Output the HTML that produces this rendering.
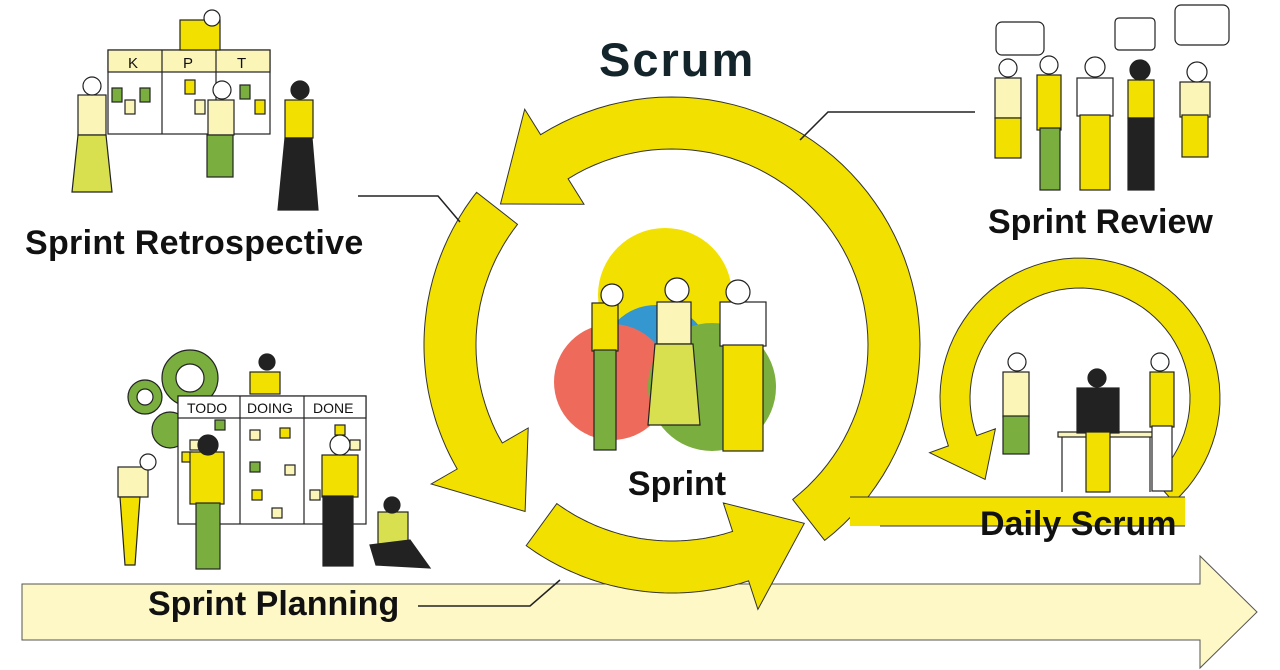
<!DOCTYPE html>
<html><head><meta charset="utf-8"><style>
html,body{margin:0;padding:0;background:#fff;width:1280px;height:670px;overflow:hidden}
svg{display:block}
text{font-family:"Liberation Sans",sans-serif;font-weight:bold;fill:#111}
</style></head><body>
<svg id="s" width="1280" height="670" viewBox="0 0 1280 670">
<polygon points="22,584 1200,584 1200,556 1257,612 1200,668 1200,640 22,640" fill="#fdf8c6" stroke="#555" stroke-width="1"/>
<g id="rings"></g>
<rect x="850" y="497" width="335" height="29" fill="#f2e100"/>
<line x1="850" y1="497" x2="1185" y2="497" stroke="#333"/>
<line x1="880" y1="526" x2="1185" y2="526" stroke="#333"/>
<!-- center circles -->
<circle cx="665" cy="295" r="67" fill="#f2e100"/>
<circle cx="656" cy="360" r="55" fill="#3497cf"/>
<circle cx="612" cy="382" r="58" fill="#ee6b5b"/>
<circle cx="712" cy="387" r="64" fill="#7aae3f"/>
<!-- center people -->
<g stroke="#222" stroke-width="1.2">
<rect x="592" y="303" width="26" height="48" fill="#f2e100"/>
<rect x="594" y="350" width="22" height="100" fill="#7aae3f"/>
<circle cx="612" cy="295" r="11" fill="#fff"/>
<rect x="657" y="302" width="34" height="42" fill="#fbf5b8"/>
<polygon points="655,344 693,344 700,425 648,425" fill="#d8e050"/>
<circle cx="677" cy="290" r="12" fill="#fff"/>
<rect x="720" y="302" width="46" height="44" fill="#fff"/>
<rect x="723" y="345" width="40" height="106" fill="#f2e100"/>
<circle cx="738" cy="292" r="12" fill="#fff"/>
</g>
<!-- daily scrum people -->
<g stroke="#222" stroke-width="1.2">
<rect x="1058" y="432" width="96" height="5" fill="#fbf5b8"/>
<line x1="1062" y1="437" x2="1062" y2="492"/><line x1="1150" y1="437" x2="1150" y2="492"/>
<rect x="1003" y="372" width="26" height="45" fill="#fbf5b8"/>
<rect x="1003" y="416" width="26" height="38" fill="#7aae3f"/>
<circle cx="1017" cy="362" r="9" fill="#fff"/>
<rect x="1077" y="388" width="42" height="45" fill="#222"/>
<rect x="1086" y="432" width="24" height="60" fill="#f2e100"/>
<circle cx="1097" cy="378" r="9" fill="#222"/>
<rect x="1150" y="372" width="24" height="55" fill="#f2e100"/>
<rect x="1152" y="426" width="20" height="65" fill="#fff"/>
<circle cx="1160" cy="362" r="9" fill="#fff"/>
</g>
<!-- sprint review people -->
<g stroke="#222" stroke-width="1.2">
<rect x="996" y="22" width="48" height="33" rx="6" fill="#fff"/>
<rect x="1115" y="18" width="40" height="32" rx="4" fill="#fff"/>
<rect x="1175" y="5" width="54" height="40" rx="6" fill="#fff"/>
<rect x="995" y="78" width="26" height="40" fill="#fbf5b8"/><rect x="995" y="118" width="26" height="40" fill="#f2e100"/><circle cx="1008" cy="68" r="9" fill="#fff"/>
<rect x="1037" y="75" width="24" height="55" fill="#f2e100"/><rect x="1040" y="128" width="20" height="62" fill="#7aae3f"/><circle cx="1049" cy="65" r="9" fill="#fff"/>
<rect x="1077" y="78" width="36" height="38" fill="#fff"/><rect x="1080" y="115" width="30" height="75" fill="#f2e100"/><circle cx="1095" cy="67" r="10" fill="#fff"/>
<rect x="1128" y="80" width="26" height="38" fill="#f2e100"/><rect x="1128" y="118" width="26" height="72" fill="#222"/><circle cx="1140" cy="70" r="10" fill="#222"/>
<rect x="1180" y="82" width="30" height="35" fill="#fbf5b8"/><rect x="1182" y="115" width="26" height="42" fill="#f2e100"/><circle cx="1197" cy="72" r="10" fill="#fff"/>
</g>
<!-- retrospective board -->
<g stroke="#222" stroke-width="1.2">
<rect x="108" y="50" width="162" height="84" fill="#fff"/>
<rect x="108" y="50" width="162" height="22" fill="#fbf5b8"/>
<line x1="162" y1="50" x2="162" y2="134"/><line x1="216" y1="50" x2="216" y2="134"/>
<rect x="112" y="88" width="10" height="14" fill="#7aae3f"/><rect x="140" y="88" width="10" height="14" fill="#7aae3f"/><rect x="125" y="100" width="10" height="14" fill="#fbf5b8"/>
<rect x="185" y="80" width="10" height="14" fill="#f2e100"/><rect x="195" y="100" width="10" height="14" fill="#fbf5b8"/><rect x="240" y="85" width="10" height="14" fill="#7aae3f"/><rect x="255" y="100" width="10" height="14" fill="#f2e100"/>
<rect x="78" y="95" width="28" height="40" fill="#fbf5b8"/><polygon points="78,135 106,135 112,192 72,192" fill="#d8e050"/><circle cx="92" cy="86" r="9" fill="#fff"/>
<rect x="180" y="20" width="40" height="30" fill="#f2e100"/><circle cx="212" cy="18" r="8" fill="#fff"/>
<rect x="208" y="100" width="26" height="35" fill="#fbf5b8"/><rect x="207" y="135" width="26" height="42" fill="#7aae3f"/><circle cx="222" cy="90" r="9" fill="#fff"/>
<rect x="285" y="100" width="28" height="38" fill="#f2e100"/><polygon points="285,138 312,138 318,210 278,210" fill="#222"/><circle cx="300" cy="90" r="9" fill="#222"/>
</g>
<!-- planning board -->
<g stroke="#222" stroke-width="1.2">
<circle cx="190" cy="378" r="28" fill="#7aae3f"/><circle cx="190" cy="378" r="14" fill="#fff"/>
<circle cx="145" cy="397" r="17" fill="#7aae3f"/><circle cx="145" cy="397" r="8" fill="#fff"/>
<circle cx="170" cy="430" r="18" fill="#7aae3f"/>
<rect x="178" y="396" width="188" height="128" fill="#fff"/>
<rect x="178" y="396" width="188" height="22" fill="#fff"/>
<line x1="240" y1="396" x2="240" y2="524"/><line x1="304" y1="396" x2="304" y2="524"/>
<rect x="190" y="440" width="10" height="10" fill="#fbf5b8"/><rect x="215" y="420" width="10" height="10" fill="#7aae3f"/><rect x="182" y="452" width="10" height="10" fill="#f2e100"/>
<rect x="250" y="430" width="10" height="10" fill="#fbf5b8"/><rect x="280" y="428" width="10" height="10" fill="#f2e100"/><rect x="250" y="462" width="10" height="10" fill="#7aae3f"/><rect x="285" y="465" width="10" height="10" fill="#fbf5b8"/><rect x="252" y="490" width="10" height="10" fill="#f2e100"/><rect x="272" y="508" width="10" height="10" fill="#fbf5b8"/>
<rect x="335" y="425" width="10" height="10" fill="#f2e100"/><rect x="350" y="440" width="10" height="10" fill="#fbf5b8"/><rect x="310" y="490" width="10" height="10" fill="#fbf5b8"/>
<rect x="190" y="452" width="34" height="52" fill="#f2e100"/><rect x="196" y="503" width="24" height="66" fill="#7aae3f"/><circle cx="208" cy="445" r="10" fill="#222"/>
<rect x="118" y="467" width="30" height="30" fill="#fbf5b8"/><polygon points="120,497 140,497 135,565 125,565" fill="#f2e100"/><circle cx="148" cy="462" r="8" fill="#fff"/>
<rect x="250" y="372" width="30" height="22" fill="#f2e100"/><circle cx="267" cy="362" r="8" fill="#222"/>
<rect x="322" y="455" width="36" height="42" fill="#f2e100"/><rect x="323" y="496" width="30" height="70" fill="#222"/><circle cx="340" cy="445" r="10" fill="#fff"/>
<rect x="378" y="512" width="30" height="32" fill="#d8e050"/><polygon points="370,545 410,540 430,568 376,565" fill="#222"/><circle cx="392" cy="505" r="8" fill="#222"/>
</g>
<!-- connector lines -->
<polyline points="358,196 438,196 460,222" fill="none" stroke="#222" stroke-width="1.5"/>
<polyline points="975,112 828,112 800,140" fill="none" stroke="#222" stroke-width="1.5"/>
<polyline points="418,606 530,606 560,580" fill="none" stroke="#222" stroke-width="1.5"/>
<!-- texts -->
<text x="599" y="76" font-size="47" style="fill:#13242a;letter-spacing:2px">Scrum</text>
<text x="25" y="254" font-size="34" style="letter-spacing:0.3px">Sprint Retrospective</text>
<text x="988" y="233" font-size="34">Sprint Review</text>
<text x="677" y="495" font-size="34" text-anchor="middle">Sprint</text>
<text x="980" y="535" font-size="34">Daily Scrum</text>
<text x="148" y="615" font-size="34">Sprint Planning</text>
<text x="128" y="68" font-size="15" style="font-weight:normal">K</text>
<text x="183" y="68" font-size="15" style="font-weight:normal">P</text>
<text x="237" y="68" font-size="15" style="font-weight:normal">T</text>
<text x="187" y="413" font-size="14" style="font-weight:normal">TODO</text>
<text x="247" y="413" font-size="14" style="font-weight:normal">DOING</text>
<text x="313" y="413" font-size="14" style="font-weight:normal">DONE</text>
</svg>
<script>
function seg(cx,cy,r,w,a0,a1,hw,L){
 var d=Math.PI/180,pts=[],n=60,i,a;
 var ro=r+w/2,ri=r-w/2;
 for(i=0;i<=n;i++){a=(a0+(a1-a0)*i/n)*d;pts.push([cx+ro*Math.cos(a),cy+ro*Math.sin(a)]);}
 a=a1*d;pts.push([cx+(ro+hw)*Math.cos(a),cy+(ro+hw)*Math.sin(a)]);
 var at=a-(L/r);pts.push([cx+r*Math.cos(at),cy+r*Math.sin(at)]);
 pts.push([cx+(ri-hw)*Math.cos(a),cy+(ri-hw)*Math.sin(a)]);
 for(i=n;i>=0;i--){a=(a0+(a1-a0)*i/n)*d;pts.push([cx+ri*Math.cos(a),cy+ri*Math.sin(a)]);}
 return '<polygon fill="#f2e100" stroke="#333" stroke-width="1" points="'+pts.map(function(p){return p[0].toFixed(1)+','+p[1].toFixed(1)}).join(' ')+'"/>';
}
var g=document.getElementById('rings');
g.innerHTML=seg(672,345,222,52,52,-122,30,72)+seg(672,345,222,52,218,150,30,72)+seg(672,345,222,52,126,72,30,72)+seg(1080,398,125,30,48,-200,20,45);
</script>
</body></html>
